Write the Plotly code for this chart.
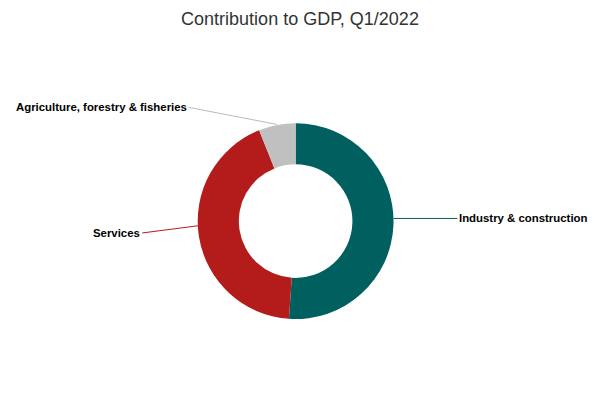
import plotly.graph_objects as go

# --- Data ---
sectors = ["Industry & construction", "Services", "Agriculture, forestry & fisheries"]
shares = [51.08, 42.84, 6.08]
colors = ["#005F5F", "#B41C1C", "#C0C0C0"]

FONT = "Liberation Sans, Arial, sans-serif"

fig = go.Figure(go.Pie(
    labels=sectors,
    values=shares,
    hole=0.58,
    sort=False,
    direction="clockwise",
    rotation=0,
    marker=dict(colors=colors, line=dict(width=0)),
    textinfo="none",
    hoverinfo="label+percent",
    domain=dict(x=[0.2, 0.785], y=[0.19, 0.70]),
    showlegend=False,
))

# leader-line labels
label_style = dict(font=dict(family=FONT, size=11.4, color="black"), showarrow=True,
                   arrowhead=0, arrowwidth=1, xref="paper", yref="paper")
fig.add_annotation(text="<b>Industry & construction</b>", x=0.66, y=0.452, ax=64, ay=0,
                   xanchor="left", arrowcolor=colors[0], **label_style)
fig.add_annotation(text="<b>Services</b>", x=0.336, y=0.435, ax=-62, ay=8,
                   xanchor="right", arrowcolor=colors[1], **label_style)
fig.add_annotation(text="<b>Agriculture, forestry & fisheries</b>", x=0.46, y=0.697, ax=-88, ay=-17,
                   xanchor="right", arrowcolor="#BBBBBB", **label_style)

fig.update_layout(
    title=dict(text="Contribution to GDP, Q1/2022", x=0.5, xanchor="center",
               y=0.973, yanchor="middle",
               font=dict(family=FONT, size=18, color="#333333")),
    margin=dict(l=0, r=0, t=0, b=0),
    paper_bgcolor="white",
    plot_bgcolor="white",
)

fig.write_html("out.html")
